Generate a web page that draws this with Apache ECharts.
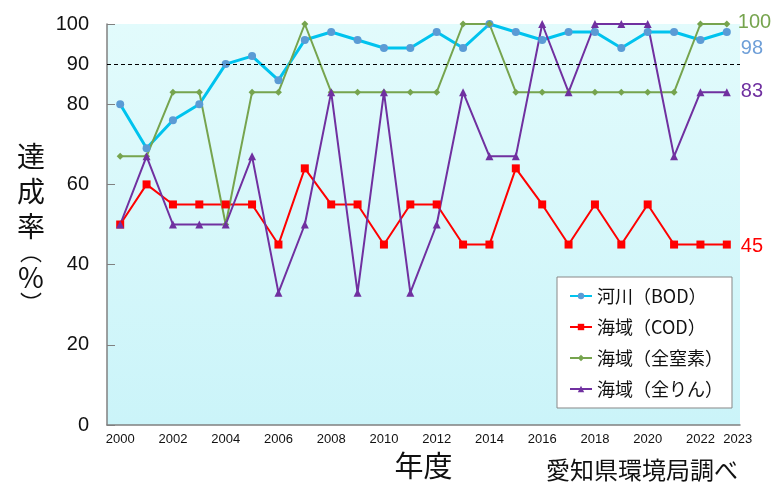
<!DOCTYPE html>
<html>
<head>
<meta charset="utf-8">
<script src="https://cdn.jsdelivr.net/npm/echarts@6/dist/echarts.min.js"></script>
<style>html,body{margin:0;padding:0;background:#fff;}#c{width:771px;height:488px;}</style>
</head>
<body>
<div id="c"></div>
<script>
const years = ['2000','2001','2002','2003','2004','2005','2006','2007','2008','2009','2010','2011','2012','2013','2014','2015','2016','2017','2018','2019','2020','2021','2022','2023'];
const riverBOD = [80,69,76,80,90,92,86,96,98,96,94,94,98,94,100,98,96,98,98,94,98,98,96,98];
const seaCOD = [50,60,55,55,55,55,45,64,55,55,45,55,55,45,45,64,55,45,55,45,55,45,45,45];
const seaTN = [67,67,83,83,50,83,83,100,83,83,83,83,83,100,100,83,83,83,83,83,83,83,100,100];
const seaTP = [50,67,50,50,50,67,33,50,83,33,83,33,50,83,67,67,100,83,100,100,100,67,83,83];
const yLabelValues = [0,20,40,60,80,90,100];
const yTickValues = [0,20,40,60,80,100];
const targetLine = 90;
const names = ['河川（BOD）','海域（COD）','海域（全窒素）','海域（全りん）'];

const jp = '"Noto Sans CJK JP", sans-serif';
const endFont = '"Liberation Sans", sans-serif';
const chart = echarts.init(document.getElementById('c'));
chart.setOption({
  animation: false,
  grid: {
    left: 107, right: 31, top: 24, bottom: 63, show: true, borderWidth: 0,
    backgroundColor: new echarts.graphic.LinearGradient(0, 0, 0, 1, [
      {offset: 0, color: '#e2fbfc'}, {offset: 1, color: '#cbf4f9'}
    ])
  },
  legend: {
    orient: 'vertical', left: 557, top: 277,
    backgroundColor: '#fff', borderColor: '#888', borderWidth: 1,
    padding: [10, 9, 10, 12], itemGap: 13, itemWidth: 22, itemHeight: 8,
    textStyle: {fontSize: 18, fontFamily: jp, color: '#111'},
    data: names
  },
  xAxis: {
    type: 'category', data: years, boundaryGap: true,
    name: '年度', nameLocation: 'middle', nameGap: 26,
    nameTextStyle: {fontSize: 29, fontFamily: jp, color: '#111'},
    axisLine: {lineStyle: {color: '#808080', width: 1.5}},
    axisTick: {inside: true, length: 5, interval: 0, lineStyle: {color: '#808080'}},
    axisLabel: {
      interval: (i) => i % 2 === 0 || i === years.length - 1,
      fontSize: 13, fontFamily: '"Liberation Sans Narrow", "Liberation Sans", sans-serif', color: '#111', margin: 8,
      formatter: (v, i) => i === years.length - 1 ? '{r|' + v + '}' : v,
      rich: {r: {fontSize: 13, fontFamily: '"Liberation Sans Narrow", "Liberation Sans", sans-serif', color: '#111', padding: [0, 0, 0, 22]}}
    },
    splitLine: {show: false}
  },
  yAxis: {
    type: 'value', min: 0, max: 100, interval: 10,
    name: '{a|達}\n{a|成}\n{a|率}\n{b|︵}\n{a|%}\n{b|︶}',
    nameLocation: 'middle', nameRotate: 0, nameGap: 76,
    nameTextStyle: {
      align: 'center',
      rich: {
        a: {fontSize: 28, lineHeight: 35, fontFamily: jp, color: '#111', align: 'center'},
        b: {fontSize: 22, lineHeight: 16, fontFamily: jp, color: '#111', align: 'center'}
      }
    },
    axisLine: {show: true, lineStyle: {color: '#808080', width: 1.5}},
    axisTick: {show: true, inside: true, length: 8, customValues: yTickValues, lineStyle: {color: '#808080'}},
    axisLabel: {customValues: yLabelValues, fontSize: 20, fontFamily: '"Liberation Sans", sans-serif', color: '#111', margin: 18},
    splitLine: {show: false}
  },
  graphic: [{
    type: 'text', left: 546, top: 458,
    style: {text: '愛知県環境局調べ', fontSize: 24, fontFamily: jp, fill: '#111'}
  }],
  series: [
    {
      name: names[0], type: 'line', data: riverBOD, symbol: 'circle', symbolSize: 8,
      lineStyle: {color: '#00c3ee', width: 3}, itemStyle: {color: '#5b9bd5'},
      endLabel: {show: true, formatter: '{c}', offset: [6, 16], fontSize: 20, color: '#6f9fd8', fontFamily: endFont},
      markLine: {
        silent: true, symbol: 'none', label: {show: false},
        lineStyle: {color: '#000', type: [4, 3], width: 1},
        data: [{yAxis: targetLine}]
      }
    },
    {
      name: names[1], type: 'line', data: seaCOD, symbol: 'rect', symbolSize: 8,
      lineStyle: {color: '#ff0000', width: 2}, itemStyle: {color: '#ff0000'},
      endLabel: {show: true, formatter: '{c}', offset: [6, 2], fontSize: 20, color: '#ff0000', fontFamily: endFont}
    },
    {
      name: names[2], type: 'line', data: seaTN, symbol: 'diamond', symbolSize: 7,
      lineStyle: {color: '#76a44e', width: 2}, itemStyle: {color: '#76a44e'},
      endLabel: {show: true, formatter: '{c}', offset: [3, -2], fontSize: 20, color: '#76a44e', fontFamily: endFont}
    },
    {
      name: names[3], type: 'line', data: seaTP, symbol: 'triangle', symbolSize: 8,
      lineStyle: {color: '#7030a0', width: 2}, itemStyle: {color: '#7030a0'},
      endLabel: {show: true, formatter: '{c}', offset: [6, -1], fontSize: 20, color: '#7030a0', fontFamily: endFont}
    }
  ]
});
</script>
</body>
</html>
